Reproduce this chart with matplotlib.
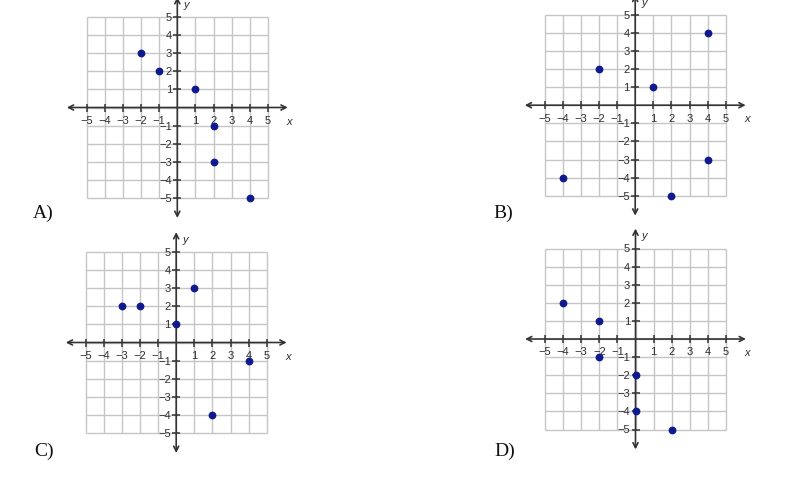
import matplotlib
matplotlib.use("Agg")
import matplotlib.pyplot as plt

# ---- data ----
panel_labels = ["A)", "B)", "C)", "D)"]
xs_A = [-2, -1, 1, 2, 2, 4]
ys_A = [3, 2, 1, -1, -3, -5]
xs_B = [-4, -2, 1, 4, 4, 2]
ys_B = [-4, 2, 1, 4, -3, -5]
xs_C = [-3, -2, 0, 1, 4, 2]
ys_C = [2, 2, 1, 3, -1, -4]
xs_D = [-4, -2, -2, 0, 0, 2]
ys_D = [2, 1, -1, -2, -4, -5]
tick_values = [-5, -4, -3, -2, -1, 1, 2, 3, 4, 5]
grid_values = [-5, -4, -3, -2, -1, 0, 1, 2, 3, 4, 5]

W, H = 788, 485
fig = plt.figure(figsize=(W / 100, H / 100), dpi=100)

# layout (pixel centres of the origin, pixel per unit)
centres = [(177.3, 108.5), (635.2, 106.2), (176.2, 343.5), (635.5, 340.0)]
label_pos = [(33, 213), (493, 213), (34, 451.5), (494, 451.5)]
unit = 18.1
L = 6.5

data = [(xs_A, ys_A), (xs_B, ys_B), (xs_C, ys_C), (xs_D, ys_D)]

grid_col = "#c6c6c6"
axis_col = "#333333"
text_col = "#2e2e2e"
dot_col = "#0f1a8e"

def fmt(v):
    return str(v).replace("-", "\u2212")

for (cx, cy), (xs, ys) in zip(centres, data):
    left = (cx - L * unit) / W
    bottom = 1 - (cy + L * unit) / H
    ax = fig.add_axes([left, bottom, 2 * L * unit / W, 2 * L * unit / H])
    ax.set_xlim(-L, L)
    ax.set_ylim(-L, L)
    ax.axis("off")
    gmin, gmax = min(grid_values), max(grid_values)
    ax.vlines(grid_values, gmin, gmax, color=grid_col, lw=1.0, zorder=1)
    ax.hlines(grid_values, gmin, gmax, color=grid_col, lw=1.0, zorder=1)
    # axes with arrows
    ext = 6.1
    ax.annotate("", xy=(ext, 0), xytext=(-ext, 0),
                arrowprops=dict(arrowstyle="<->,head_length=0.35,head_width=0.18",
                                color=axis_col, lw=1.2, shrinkA=0, shrinkB=0),
                zorder=2, annotation_clip=False)
    ax.annotate("", xy=(0, ext), xytext=(0, -ext),
                arrowprops=dict(arrowstyle="<->,head_length=0.35,head_width=0.18",
                                color=axis_col, lw=1.2, shrinkA=0, shrinkB=0),
                zorder=2, annotation_clip=False)
    # tick marks
    ax.plot(tick_values, [0] * len(tick_values), ls="none", marker="|",
            ms=5.5, mew=1.1, color=axis_col, zorder=3)
    ax.plot([0] * len(tick_values), tick_values, ls="none", marker="_",
            ms=5.5, mew=1.1, color=axis_col, zorder=3)
    # tick labels
    for v in tick_values:
        ax.text(v, -0.68, fmt(v), ha="center", va="center", fontsize=8,
                family="Liberation Sans", color=text_col, zorder=4)
        ax.text(-0.3, v, fmt(v), ha="right", va="center", fontsize=8,
                family="Liberation Sans", color=text_col, zorder=4)
    ax.text(6.2, -0.72, "x", ha="center", va="center", fontsize=8,
            style="italic", family="Liberation Sans", color=text_col)
    ax.text(0.5, 5.72, "y", ha="center", va="center", fontsize=8,
            style="italic", family="Liberation Sans", color=text_col)
    # points
    ax.plot(xs, ys, ls="none", marker="o", ms=4.6, color=dot_col,
            mec=dot_col, zorder=5, clip_on=False)

for lab, (px, py) in zip(panel_labels, label_pos):
    fig.text(px / W, 1 - py / H, lab, ha="left", va="center",
             fontsize=14, family="Liberation Serif", color="#111111")

fig.savefig("out.png", dpi=100, facecolor="white")
